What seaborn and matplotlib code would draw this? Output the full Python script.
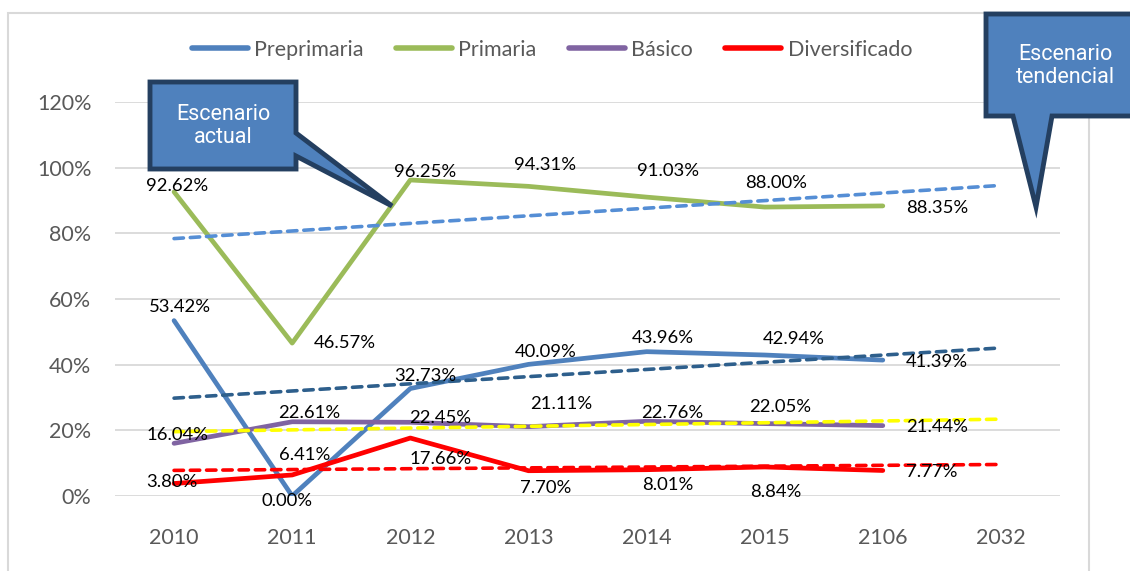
import pandas as pd
import matplotlib.pyplot as plt
import seaborn as sns
from matplotlib.patches import Polygon, Rectangle
from matplotlib import font_manager

# ---------------------------------------------------------------
# Data
# ---------------------------------------------------------------
years = ["2010", "2011", "2012", "2013", "2014", "2015", "2106"]
trend_years = ["2010", "2032"]

preprimaria = [53.42, 0.00, 32.73, 40.09, 43.96, 42.94, 41.39]
primaria = [92.62, 46.57, 96.25, 94.31, 91.03, 88.00, 88.35]
basico = [16.04, 22.61, 22.45, 21.11, 22.76, 22.05, 21.44]
diversificado = [3.80, 6.41, 17.66, 7.70, 8.01, 8.84, 7.77]

series_names = ["Preprimaria", "Primaria", "Básico", "Diversificado"]
series_values = [preprimaria, primaria, basico, diversificado]

# linear trend lines (start at 2010, end at 2032)
trend_primaria = [78.4, 94.6]
trend_preprimaria = [29.8, 45.1]
trend_basico = [19.6, 23.4]
trend_diversificado = [7.8, 9.6]

# ---------------------------------------------------------------
# Style
# ---------------------------------------------------------------
sns.set_style("white")
plt.rcParams["font.family"] = ["Lato", "DejaVu Sans"]

names = {f.name for f in font_manager.fontManager.ttflist}
narrow = "Liberation Sans Narrow" if "Liberation Sans Narrow" in names else "Roboto"

colors = {"Preprimaria": "#4F81BD", "Primaria": "#9BBB59",
          "Básico": "#8064A2", "Diversificado": "#FF0000"}
trend_colors = ["#558ED5", "#2E5F8C", "#FFFF00", "#FF0000"]
trend_values = [trend_primaria, trend_preprimaria, trend_basico, trend_diversificado]

# label offsets in pixels (dx, dy) per series
offsets = {
    "Primaria": [(3, 6), (53, 0), (15, 8), (17, 21), (21, 26), (11, 24), (54, -2)],
    "Preprimaria": [(6, 14), (-5, -5), (15, 13), (17, 12), (16, 14), (29, 16), (54, -2)],
    "Básico": [(3, 8), (17, 9), (30, 4), (33, 23), (26, 8), (16, 17), (54, -1)],
    "Diversificado": [(-2, 2), (12, 20), (30, -21), (17, -17), (21, -15), (11, -25), (49, -2)],
}

W, H = 1130, 571
fig = plt.figure(figsize=(W / 100, H / 100), dpi=100)
ax = fig.add_axes([115 / W, 1 - 496 / H, 945 / W, 394 / H])

def fx(px):
    return px / W

def fy(py):
    return 1 - py / H

# outer frame
fig.patches.append(Rectangle((fx(7.5), fy(600)), fx(1089 - 7.5), fy(13) - fy(600),
                             transform=fig.transFigure, fill=False,
                             edgecolor="#D9D9D9", lw=1.5, zorder=0))

# ---------------------------------------------------------------
# Lines
# ---------------------------------------------------------------
df = pd.DataFrame({
    "year": years * 4,
    "value": [v / 100 for s in series_values for v in s],
    "serie": [n for n in series_names for _ in years],
})

sns.lineplot(data=df, x="year", y="value", hue="serie", palette=colors,
             hue_order=series_names, sort=False, linewidth=3.4, ax=ax)

for vals, col in zip(trend_values, trend_colors):
    tdf = pd.DataFrame({"year": trend_years, "value": [v / 100 for v in vals]})
    sns.lineplot(data=tdf, x="year", y="value", color=col, sort=False,
                 linewidth=2.6, linestyle=(0, (2.6, 1.9)), dash_capstyle="round",
                 ax=ax, zorder=4)

# data labels
for name, vals in zip(series_names, series_values):
    for i, v in enumerate(vals):
        dx, dy = offsets[name][i]
        ax.annotate(f"{v:.2f}%", (years[i], v / 100), xytext=(dx * 0.72, dy * 0.72),
                    textcoords="offset points", ha="center", va="center",
                    fontsize=13.3, color="black", zorder=6)

# ---------------------------------------------------------------
# Axes
# ---------------------------------------------------------------
ax.set_xlim(-0.5, 7.5)
ax.set_ylim(0, 1.2)
ax.set_yticks([0, 0.2, 0.4, 0.6, 0.8, 1.0, 1.2])
ax.set_yticklabels(["0%", "20%", "40%", "60%", "80%", "100%", "120%"])
ax.grid(axis="y", color="#D9D9D9", lw=1.3)
ax.set_axisbelow(True)
for sp in ax.spines.values():
    sp.set_visible(False)
ax.tick_params(axis="both", length=0, labelsize=15.5, labelcolor="#595959")
ax.tick_params(axis="y", pad=17)
ax.tick_params(axis="x", pad=23)
ax.set_xlabel("")
ax.set_ylabel("")

# legend
handles, labels = ax.get_legend_handles_labels()
leg = fig.legend(handles[:4], labels[:4], loc="center", bbox_to_anchor=(fx(552), fy(50)),
                 ncol=4, frameon=False, fontsize=15.5, handlelength=2.6,
                 columnspacing=1.5, handletextpad=0.3, labelcolor="#595959")
for line in leg.get_lines():
    line.set_linewidth(4)
ax.get_legend().remove()

# ---------------------------------------------------------------
# Callouts
# ---------------------------------------------------------------
box1 = [(150, 82), (296, 82), (296, 133), (392, 206), (296, 156), (296, 169), (150, 169)]
fig.patches.append(Polygon([(fx(x), fy(y)) for x, y in box1], closed=True,
                           transform=fig.transFigure, facecolor="#4F81BD",
                           edgecolor="#243F60", lw=3.5, joinstyle="miter", zorder=10))
fig.text(fx(223), fy(126), "Escenario\nactual", ha="center", va="center",
         color="white", fontsize=15.5, family=narrow, linespacing=1.15, zorder=11)

box2 = [(986, 14), (1150, 14), (1150, 116), (1052, 116), (1036, 207), (1013, 116), (986, 116)]
fig.patches.append(Polygon([(fx(x), fy(y)) for x, y in box2], closed=True,
                           transform=fig.transFigure, facecolor="#4F81BD",
                           edgecolor="#243F60", lw=3.5, joinstyle="miter", zorder=10))
fig.text(fx(1065), fy(66), "Escenario\ntendencial", ha="center", va="center",
         color="white", fontsize=15.5, family=narrow, linespacing=1.15, zorder=11)

fig.savefig("out.png", dpi=100)
